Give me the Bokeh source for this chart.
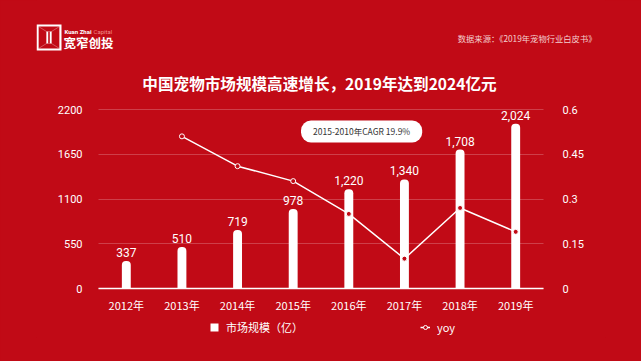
from bokeh.plotting import figure
from bokeh.models import (Range1d, LinearAxis, FixedTicker, Legend, LegendItem, Label,
                          BoxAnnotation, PolyAnnotation, FactorRange)
from bokeh.core.properties import value
from bokeh.embed import file_html
from bokeh.resources import INLINE

# ---- data ----
years = ["2012年", "2013年", "2014年", "2015年", "2016年", "2017年", "2018年", "2019年"]
market = [337, 510, 719, 978, 1220, 1340, 1708, 2024]
bar_labels = ["337", "510", "719", "978", "1,220", "1,340", "1,708", "2,024"]
yoy_years = ["2013年", "2014年", "2015年", "2016年", "2017年", "2018年", "2019年"]
yoy = [0.51, 0.41, 0.36, 0.25, 0.10, 0.27, 0.19]
left_ticks = [0, 550, 1100, 1650, 2200]
right_ticks = [0, 0.15, 0.3, 0.45, 0.6]
right_tick_labels = ["0", "0.15", "0.3", "0.45", "0.6"]

title_text = "中国宠物市场规模高速增长，2019年达到2024亿元"
source_text = "数据来源：《2019年宠物行业白皮书》"
cagr_text = "2015-2010年CAGR 19.9%"

BG = "#c10a16"
CJK = "Noto Sans CJK SC"

# ---- page geometry (pixels) ----
W, H = 641, 361
FL, FR, FT, FB = 36, 605, 0, 337          # frame edges on the page
PL, PR, PT, PB = 98, 543, 109, 288        # chart area (category span / value span)
YMAX, RMAX = 2200, 0.6
ncat = len(years)
cat_px = (PR - PL) / ncat
pad = (PL - FL) / cat_px
px_per = (PB - PT) / YMAX


def sx(x):
    return x - FL


def sy(y):
    return FB - y


y_start = -(FB - PB) / px_per
y_end = YMAX + (PT - FT) / px_per
r_scale = RMAX / YMAX

p = figure(frame_width=FR - FL, frame_height=FB - FT,
           x_range=FactorRange(*years, range_padding=pad, range_padding_units="absolute"),
           y_range=Range1d(y_start, y_end), output_backend="svg", toolbar_location=None,
           title_location=None, min_border_left=FL, min_border_right=W - FR,
           min_border_top=FT, min_border_bottom=H - FB,
           background_fill_color=BG, border_fill_color=BG, outline_line_color=None)

p.extra_y_ranges = {"yoy": Range1d(y_start * r_scale, y_end * r_scale)}

# axes
p.yaxis.ticker = FixedTicker(ticks=left_ticks)
p.yaxis.fixed_location = 0
p.yaxis.axis_line_color = None
p.yaxis.major_tick_line_color = None
p.yaxis.minor_tick_line_color = None
p.yaxis.major_label_standoff = 10
p.yaxis.major_label_text_color = "white"
p.yaxis.major_label_text_font = "Roboto"
p.yaxis.major_label_text_font_size = "11px"

rax = LinearAxis(y_range_name="yoy", ticker=FixedTicker(ticks=right_ticks),
                 major_label_overrides={t: s for t, s in zip(right_ticks, right_tick_labels)})
rax.fixed_location = ncat
rax.axis_line_color = None
rax.major_tick_line_color = None
rax.minor_tick_line_color = None
rax.major_label_standoff = 13
rax.major_label_text_color = "white"
rax.major_label_text_font = "Roboto"
rax.major_label_text_font_size = "11px"
p.add_layout(rax, "right")

p.xaxis.fixed_location = 0
p.xaxis.bounds = (0, ncat)
p.xaxis.axis_line_color = "white"
p.xaxis.axis_line_width = 1.5
p.xaxis.major_tick_line_color = None
p.xaxis.minor_tick_line_color = None
p.xaxis.major_label_standoff = 2
p.xaxis.major_label_text_color = "white"
p.xaxis.major_label_text_font = CJK
p.xaxis.major_label_text_font_size = "11px"

p.xgrid.grid_line_color = None
try:
    p.ygrid.ticker = FixedTicker(ticks=left_ticks)
    p.ygrid.cross_bounds = (0, ncat)
    p.ygrid.grid_line_color = "white"
    p.ygrid.grid_line_alpha = 0.22
except AttributeError:
    p.ygrid.grid_line_color = None
    p.segment(x0=[0] * len(left_ticks), x1=[ncat] * len(left_ticks), y0=left_ticks,
              y1=left_ticks, line_color="white", line_alpha=0.22, level="underlay")

# data marks
bars = p.vbar(x=years, top=market, width=0.16, fill_color="white", line_color=None,
              border_radius=(4, 4, 0, 0))
p.text(x=years, y=market, text=bar_labels, y_offset=-4, text_align="center",
       text_baseline="bottom", text_color="white", text_font=value("Roboto"),
       text_font_size="12px")

line = p.line(x=yoy_years, y=yoy, y_range_name="yoy", line_color="white", line_width=1.5)
pts = p.scatter(x=yoy_years, y=yoy, y_range_name="yoy", size=5, fill_color=BG,
                line_color="white", line_width=1)

legend = Legend(items=[LegendItem(label="市场规模（亿）", renderers=[bars]),
                       LegendItem(label="yoy", renderers=[line, pts])],
                orientation="horizontal", location=(sx(209), 2), spacing=114,
                padding=0, margin=0, label_width=80, label_standoff=7,
                glyph_width=10, glyph_height=10, label_text_color="white",
                label_text_font=CJK, label_text_font_size="11px",
                background_fill_alpha=0, border_line_color=None)
p.add_layout(legend)

# CAGR note
p.add_layout(Label(x=4.73, y=1930, text=cagr_text, text_align="center", text_baseline="middle",
                   text_font=CJK, text_font_size="8.5px", text_color="#333333",
                   background_fill_color="white", padding=(12, 5), border_radius=10))

# ---- header: logo, brand, source, title ----
logo_outer = (36, 61, 24, 50)
logo_inner = (38, 59, 26, 48)
logo_left_xs = [38, 46, 46, 38]
logo_right_xs = [59, 51, 51, 59]
logo_side_ys = [26, 31, 43, 48]
logo_bar = (46, 51, 31, 43)
logo_slit = (47.7, 49.3, 31, 43)


def box(b, color):
    return BoxAnnotation(left=sx(b[0]), right=sx(b[1]), top=sy(b[2]), bottom=sy(b[3]),
                         left_units="screen", right_units="screen", top_units="screen",
                         bottom_units="screen", fill_color=color, fill_alpha=1,
                         line_color=None)


p.add_layout(box(logo_outer, "white"))
p.add_layout(box(logo_inner, BG))
for xs in (logo_left_xs, logo_right_xs):
    p.add_layout(PolyAnnotation(xs=[sx(v) for v in xs], ys=[sy(v) for v in logo_side_ys],
                                xs_units="screen", ys_units="screen", fill_alpha=0,
                                line_color="white", line_width=1))
p.add_layout(box(logo_bar, "white"))
p.add_layout(box(logo_slit, BG))


def header_label(x, y, text, align, font, size, color, style="normal"):
    return Label(x=sx(x), y=sy(y), x_units="screen", y_units="screen", text=text,
                 text_align=align, text_baseline="middle", text_font=font,
                 text_font_size=size, text_font_style=style, text_color=color)


p.add_layout(header_label(64, 31, "Kuan Zhai", "left", "Roboto", "6px", "white", "bold"))
p.add_layout(header_label(93, 31, "Capital", "left", "Roboto", "6px", "#f08a8a"))
p.add_layout(header_label(63, 42, "宽窄创投", "left", CJK, "12.5px", "white", "bold"))
p.add_layout(header_label(596, 37, source_text, "right", CJK, "8.3px", "#f3cfcf"))
p.add_layout(header_label(319, 82, title_text, "center", CJK, "15.6px", "white", "bold"))

html = file_html(p, INLINE)
html = html.replace("<head>", "<head><style>html,body{background:%s;}</style>" % BG, 1)
open("out.html", "w").write(html)
